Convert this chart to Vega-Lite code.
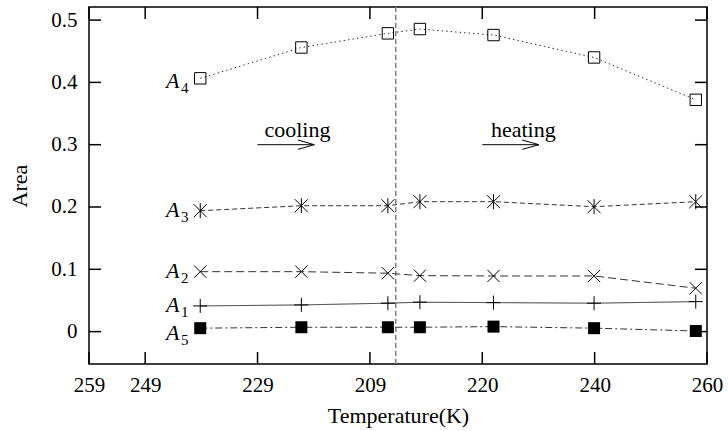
{
  "$schema": "https://vega.github.io/schema/vega-lite/v6.json",
  "width": 618,
  "height": 357,
  "autosize": "none",
  "padding": {"left": 89, "top": 7, "right": 21, "bottom": 67},
  "background": "white",
  "config": {
    "view": {"stroke": "black", "strokeWidth": 1.5},
    "font": "Liberation Serif",
    "axis": {
      "labelFont": "Liberation Serif",
      "labelFontSize": 21,
      "labelColor": "black",
      "labelFlush": false,
      "titleFont": "Liberation Serif",
      "titleFontSize": 22,
      "titleFontWeight": "normal",
      "titleColor": "black",
      "ticks": false,
      "domain": false,
      "grid": false
    }
  },
  "datasets": {
    "series": [
      {"series": "A4", "x": 9.8, "y": 0.4065},
      {"series": "A4", "x": 27.8, "y": 0.456},
      {"series": "A4", "x": 43.2, "y": 0.4787},
      {"series": "A4", "x": 48.9, "y": 0.4856},
      {"series": "A4", "x": 62.0, "y": 0.476},
      {"series": "A4", "x": 79.9, "y": 0.440},
      {"series": "A4", "x": 98.0, "y": 0.372},
      {"series": "A3", "x": 9.8, "y": 0.194},
      {"series": "A3", "x": 27.8, "y": 0.202},
      {"series": "A3", "x": 43.2, "y": 0.202},
      {"series": "A3", "x": 48.9, "y": 0.2085},
      {"series": "A3", "x": 62.0, "y": 0.2085},
      {"series": "A3", "x": 79.9, "y": 0.2005},
      {"series": "A3", "x": 98.0, "y": 0.2085},
      {"series": "A2", "x": 9.8, "y": 0.0962},
      {"series": "A2", "x": 27.8, "y": 0.0962},
      {"series": "A2", "x": 43.2, "y": 0.0937},
      {"series": "A2", "x": 48.9, "y": 0.0898},
      {"series": "A2", "x": 62.0, "y": 0.0893},
      {"series": "A2", "x": 79.9, "y": 0.0893},
      {"series": "A2", "x": 98.0, "y": 0.0696},
      {"series": "A1", "x": 9.8, "y": 0.0412},
      {"series": "A1", "x": 27.8, "y": 0.0428},
      {"series": "A1", "x": 43.2, "y": 0.0456},
      {"series": "A1", "x": 48.9, "y": 0.0472},
      {"series": "A1", "x": 62.0, "y": 0.0465},
      {"series": "A1", "x": 79.9, "y": 0.0456},
      {"series": "A1", "x": 98.0, "y": 0.0481},
      {"series": "A5", "x": 9.8, "y": 0.0055},
      {"series": "A5", "x": 27.8, "y": 0.007},
      {"series": "A5", "x": 43.2, "y": 0.007},
      {"series": "A5", "x": 48.9, "y": 0.007},
      {"series": "A5", "x": 62.0, "y": 0.008},
      {"series": "A5", "x": 79.9, "y": 0.0055},
      {"series": "A5", "x": 98.0, "y": 0.001}
    ],
    "labels": [
      {"main": "A", "sub": "4", "x": 6.1, "y": 0.3905},
      {"main": "A", "sub": "3", "x": 6.1, "y": 0.184},
      {"main": "A", "sub": "2", "x": 6.1, "y": 0.086},
      {"main": "A", "sub": "1", "x": 6.1, "y": 0.0315},
      {"main": "A", "sub": "5", "x": 6.1, "y": -0.0133}
    ],
    "arrows": [
      {"part": "c-shaft", "x": 20.0, "y": 0.3},
      {"part": "c-shaft", "x": 30.1, "y": 0.3},
      {"part": "c-up", "x": 27.2, "y": 0.3075},
      {"part": "c-up", "x": 30.1, "y": 0.3},
      {"part": "c-lo", "x": 27.2, "y": 0.2925},
      {"part": "c-lo", "x": 30.1, "y": 0.3},
      {"part": "h-shaft", "x": 60.0, "y": 0.3},
      {"part": "h-shaft", "x": 70.1, "y": 0.3},
      {"part": "h-up", "x": 67.1, "y": 0.3075},
      {"part": "h-up", "x": 70.1, "y": 0.3},
      {"part": "h-lo", "x": 67.1, "y": 0.2925},
      {"part": "h-lo", "x": 70.1, "y": 0.3}
    ],
    "notes": [
      {"text": "cooling", "x": 27.1, "y": 0.312},
      {"text": "heating", "x": 67.3, "y": 0.3128}
    ],
    "turn": [{"x": 44.6}],
    "xticks": [
      {"v": -10, "a": -0.052, "b": -0.0327}, {"v": 0, "a": -0.052, "b": -0.0327}, {"v": 20, "a": -0.052, "b": -0.0327},
      {"v": 40, "a": -0.052, "b": -0.0327}, {"v": 60, "a": -0.052, "b": -0.0327}, {"v": 80, "a": -0.052, "b": -0.0327},
      {"v": 100, "a": -0.052, "b": -0.0327},
      {"v": -10, "a": 0.521, "b": 0.5017}, {"v": 0, "a": 0.521, "b": 0.5017}, {"v": 20, "a": 0.521, "b": 0.5017},
      {"v": 40, "a": 0.521, "b": 0.5017}, {"v": 60, "a": 0.521, "b": 0.5017}, {"v": 80, "a": 0.521, "b": 0.5017},
      {"v": 100, "a": 0.521, "b": 0.5017}
    ],
    "yticks": [
      {"v": 0, "a": -10, "b": -7.86}, {"v": 0.1, "a": -10, "b": -7.86}, {"v": 0.2, "a": -10, "b": -7.86},
      {"v": 0.3, "a": -10, "b": -7.86}, {"v": 0.4, "a": -10, "b": -7.86}, {"v": 0.5, "a": -10, "b": -7.86},
      {"v": 0, "a": 100, "b": 97.86}, {"v": 0.1, "a": 100, "b": 97.86}, {"v": 0.2, "a": 100, "b": 97.86},
      {"v": 0.3, "a": 100, "b": 97.86}, {"v": 0.4, "a": 100, "b": 97.86}, {"v": 0.5, "a": 100, "b": 97.86}
    ]
  },
  "layer": [
    {
      "data": {"name": "turn"},
      "mark": {"type": "rule", "color": "#808080", "strokeWidth": 1.5, "strokeDash": [5, 3]},
      "encoding": {
        "x": {
          "field": "x", "type": "quantitative",
          "scale": {"domain": [-10, 100], "nice": false, "zero": false},
          "axis": null
        }
      }
    },
    {
      "data": {"name": "xticks"},
      "mark": {"type": "rule", "color": "black", "strokeWidth": 1.5},
      "encoding": {
        "x": {"field": "v", "type": "quantitative", "axis": null},
        "y": {"field": "a", "type": "quantitative", "axis": null},
        "y2": {"field": "b"}
      }
    },
    {
      "data": {"name": "yticks"},
      "mark": {"type": "rule", "color": "black", "strokeWidth": 1.5},
      "encoding": {
        "y": {"field": "v", "type": "quantitative", "axis": null},
        "x": {"field": "a", "type": "quantitative", "axis": null},
        "x2": {"field": "b"}
      }
    },
    {
      "data": {"name": "series"},
      "mark": {"type": "line", "color": "#333333", "strokeWidth": 1},
      "encoding": {
        "x": {"field": "x", "type": "quantitative", "axis": null},
        "y": {"field": "y", "type": "quantitative", "axis": null},
        "detail": {"field": "series"},
        "strokeDash": {
          "field": "series", "type": "nominal", "legend": null,
          "scale": {"domain": ["A1", "A2", "A3", "A4", "A5"], "range": [[1, 0], [8, 4], [5, 3], [1.5, 3], [7, 3, 2, 3]]}
        }
      }
    },
    {
      "data": {"name": "series"},
      "transform": [{"filter": "datum.series === 'A4'"}],
      "mark": {"type": "point", "shape": "square", "size": 130, "filled": false, "stroke": "black", "strokeWidth": 1, "opacity": 1},
      "encoding": {
        "x": {
          "field": "x", "type": "quantitative",
          "axis": {
            "orient": "bottom", "title": "Temperature(K)", "values": [-10, 0, 20, 40, 60, 80, 100],
            "labelExpr": "datum.value <= 40 ? '' + (249 - datum.value) : '' + (160 + datum.value)",
            "labelPadding": 10, "titlePadding": 10
          }
        },
        "y": {
          "field": "y", "type": "quantitative",
          "scale": {"domain": [-0.052, 0.521], "nice": false, "zero": false},
          "axis": {
            "orient": "left", "title": "Area", "values": [0, 0.1, 0.2, 0.3, 0.4, 0.5],
            "labelExpr": "datum.value == 0 ? '0' : format(datum.value, '.1f')",
            "labelPadding": 12, "titlePadding": 19
          }
        }
      }
    },
    {
      "data": {"name": "series"},
      "transform": [{"filter": "datum.series === 'A3'"}],
      "mark": {"type": "point", "shape": "M-1,-1L1,1M-1,1L1,-1M0,-1.15L0,1.15", "size": 170, "filled": false, "stroke": "black", "strokeWidth": 1, "opacity": 1},
      "encoding": {
        "x": {"field": "x", "type": "quantitative", "axis": null},
        "y": {"field": "y", "type": "quantitative", "axis": null}
      }
    },
    {
      "data": {"name": "series"},
      "transform": [{"filter": "datum.series === 'A2'"}],
      "mark": {"type": "point", "shape": "M-1,-1L1,1M-1,1L1,-1", "size": 150, "filled": false, "stroke": "black", "strokeWidth": 1, "opacity": 1},
      "encoding": {
        "x": {"field": "x", "type": "quantitative", "axis": null},
        "y": {"field": "y", "type": "quantitative", "axis": null}
      }
    },
    {
      "data": {"name": "series"},
      "transform": [{"filter": "datum.series === 'A1'"}],
      "mark": {"type": "point", "shape": "M-1,0L1,0M0,-1L0,1", "size": 196, "filled": false, "stroke": "black", "strokeWidth": 1, "opacity": 1},
      "encoding": {
        "x": {"field": "x", "type": "quantitative", "axis": null},
        "y": {"field": "y", "type": "quantitative", "axis": null}
      }
    },
    {
      "data": {"name": "series"},
      "transform": [{"filter": "datum.series === 'A5'"}],
      "mark": {"type": "point", "shape": "square", "size": 144, "filled": true, "color": "black", "opacity": 1},
      "encoding": {
        "x": {"field": "x", "type": "quantitative", "axis": null},
        "y": {"field": "y", "type": "quantitative", "axis": null}
      }
    },
    {
      "data": {"name": "arrows"},
      "mark": {"type": "line", "color": "black", "strokeWidth": 1},
      "encoding": {
        "x": {"field": "x", "type": "quantitative", "axis": null},
        "y": {"field": "y", "type": "quantitative", "axis": null},
        "detail": {"field": "part"}
      }
    },
    {
      "data": {"name": "notes"},
      "mark": {"type": "text", "font": "Liberation Serif", "fontSize": 22, "align": "center", "baseline": "alphabetic", "color": "black"},
      "encoding": {
        "x": {"field": "x", "type": "quantitative", "axis": null},
        "y": {"field": "y", "type": "quantitative", "axis": null},
        "text": {"field": "text"}
      }
    },
    {
      "data": {"name": "labels"},
      "mark": {"type": "text", "font": "Liberation Serif", "fontStyle": "italic", "fontSize": 22, "align": "right", "baseline": "alphabetic", "color": "black"},
      "encoding": {
        "x": {"field": "x", "type": "quantitative", "axis": null},
        "y": {"field": "y", "type": "quantitative", "axis": null},
        "text": {"field": "main"}
      }
    },
    {
      "data": {"name": "labels"},
      "mark": {"type": "text", "font": "Liberation Serif", "fontSize": 15, "align": "left", "baseline": "alphabetic", "dx": 1.5, "dy": 5, "color": "black"},
      "encoding": {
        "x": {"field": "x", "type": "quantitative", "axis": null},
        "y": {"field": "y", "type": "quantitative", "axis": null},
        "text": {"field": "sub"}
      }
    }
  ],
  "resolve": {"axis": {"x": "independent", "y": "independent"}}
}
